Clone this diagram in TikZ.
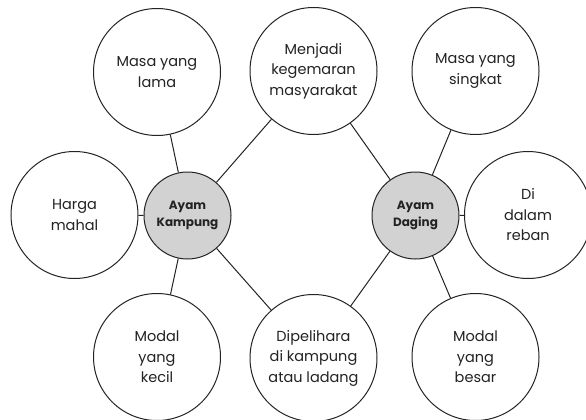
\documentclass[tikz,border=0pt]{standalone}
\usepackage{fontspec}
\setmainfont{Poppins}
\definecolor{hub}{RGB}{210,210,210}
\definecolor{ink}{RGB}{35,35,35}
\begin{document}
\begin{tikzpicture}[x=1pt,y=-1pt,
  bubble/.style={circle,draw=ink,line width=1pt,fill=white,minimum size=127pt,inner sep=0pt,align=center,font=\fontsize{14.5}{20.5}\selectfont,text=ink},
  hubnode/.style={circle,draw=ink,line width=1pt,fill=hub,minimum size=87pt,inner sep=0pt,align=center,font=\fontsize{12}{17.5}\selectfont\bfseries,text=ink},
  link/.style={draw=ink,line width=1pt}]
\useasboundingbox (0,0) rectangle (586,420);
\node[hubnode] (k) at (187.5,215.5) {Ayam\\Kampung};
\node[hubnode] (d) at (415.5,215.5) {Ayam\\Daging};
\node[bubble] (lama) at (157,72) {Masa yang\\lama};
\node[bubble] (gemar) at (313.5,71) {Menjadi\\kegemaran\\masyarakat};
\node[bubble] (singkat) at (475.5,71) {Masa yang\\singkat};
\node[bubble] (harga) at (74.5,215) {Harga\\mahal};
\node[bubble] (reban) at (528,215) {Di\\dalam\\reban};
\node[bubble] (kecil) at (157,357) {Modal\\yang\\kecil};
\node[bubble] (pelihara) at (313.5,358) {Dipelihara\\di kampung\\atau ladang};
\node[bubble] (besar) at (475.5,357) {Modal\\yang\\besar};
\foreach \a/\b in {k/lama,k/gemar,k/harga,k/kecil,k/pelihara,d/gemar,d/singkat,d/reban,d/besar,d/pelihara}
  \draw[link] (\a) -- (\b);
\end{tikzpicture}
\end{document}
